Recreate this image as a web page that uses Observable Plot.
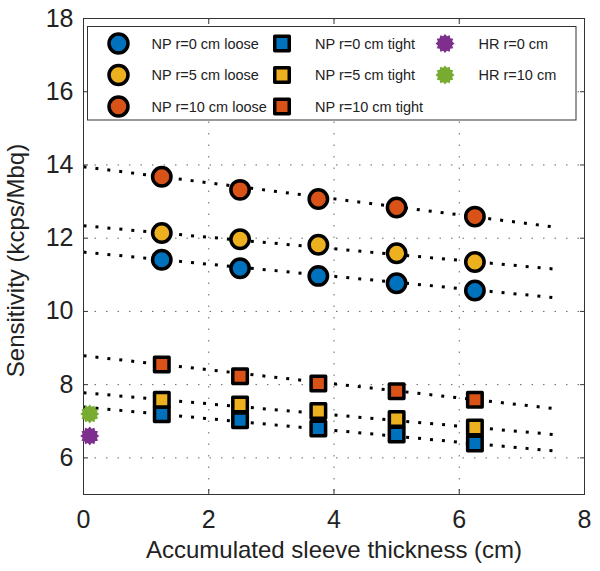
<!DOCTYPE html>
<html>
<head>
<meta charset="utf-8">
<script src="https://cdn.jsdelivr.net/npm/d3@7"></script>
<script src="https://cdn.jsdelivr.net/npm/@observablehq/plot@0.6"></script>
<style>
  html, body { margin: 0; padding: 0; background: #fff; }
  #chart { width: 600px; height: 571px; }
  svg { font-family: "Liberation Sans", Arial, Helvetica, sans-serif; }
</style>
</head>
<body>
<div id="chart"></div>
<script>
// ---- Data ----
const thickness = [1.25, 2.5, 3.75, 5, 6.25];
const seriesNames = [
  "NP r=0 cm loose", "NP r=5 cm loose", "NP r=10 cm loose",
  "NP r=0 cm tight", "NP r=5 cm tight", "NP r=10 cm tight",
  "HR r=0 cm", "HR r=10 cm"
];
const seriesColors = ["#0072BD", "#EDB120", "#D95319", "#0072BD", "#EDB120", "#D95319", "#7E2F8E", "#77AC30"];
const np0Loose  = [11.41, 11.18, 10.97, 10.77, 10.57];
const np5Loose  = [12.14, 11.97, 11.82, 11.59, 11.35];
const np10Loose = [13.68, 13.32, 13.07, 12.84, 12.59];
const np0Tight  = [7.19, 7.03, 6.80, 6.64, 6.39];
const np5Tight  = [7.59, 7.46, 7.28, 7.06, 6.83];
const np10Tight = [8.55, 8.23, 8.03, 7.82, 7.59];
const hrThickness = [0.1, 0.1];
const hrValues = [6.60, 7.20];
// dotted fit lines: value at start and end thickness
const fitRange = [0, 7.5];
const fitStart = [11.62, 12.34, 13.95, 7.39, 7.78, 8.79];
const fitEnd   = [10.38, 11.16, 12.31, 6.19, 6.64, 7.35];
const xTicks = [0, 2, 4, 6, 8];
const yTicks = [6, 8, 10, 12, 14, 16, 18];
const xGrid = [2, 4, 6];
const yGrid = [6, 8, 10, 12, 14, 16];
const xLabel = "Accumulated sleeve thickness (cm)";
const yLabel = "Sensitivity (kcps/Mbq)";

// ---- Build tables ----
const looseArrays = [np0Loose, np5Loose, np10Loose];
const tightArrays = [np0Tight, np5Tight, np10Tight];
const loose = looseArrays.flatMap((arr, i) => arr.map((v, j) => ({x: thickness[j], y: v, series: seriesNames[i]})));
const tight = tightArrays.flatMap((arr, i) => arr.map((v, j) => ({x: thickness[j], y: v, series: seriesNames[i + 3]})));
const hr = hrValues.map((v, i) => ({x: hrThickness[i], y: v, series: seriesNames[6 + i]}));
const fits = fitStart.map((v, i) => ({x1: fitRange[0], y1: v, x2: fitRange[1], y2: fitEnd[i], series: seriesNames[i]}));

// serrated "burst" marker (thick MATLAB asterisk look)
const burst = {
  draw(context, size) {
    const R = Math.sqrt(size / Math.PI);
    const n = 12;
    for (let k = 0; k < 2 * n; k++) {
      const a = (k * Math.PI) / n - Math.PI / 2;
      const rr = k % 2 === 0 ? R : R * 0.78;
      const px = rr * Math.cos(a), py = rr * Math.sin(a);
      if (k === 0) context.moveTo(px, py); else context.lineTo(px, py);
    }
    context.closePath();
  }
};

const frameColor = "#333";
const gridStyle = {stroke: "#666", strokeOpacity: 1, strokeWidth: 1, strokeDasharray: "1.5,10"};

const chart = Plot.plot({
  width: 600,
  height: 571,
  marginLeft: 83,
  marginRight: 16,
  marginTop: 18,
  marginBottom: 77,
  style: {fontFamily: "Liberation Sans, Arial, Helvetica, sans-serif", background: "#fff", color: "#222"},
  x: {domain: [0, 8]},
  y: {domain: [5, 18]},
  color: {domain: seriesNames, range: seriesColors},
  marks: [
    Plot.gridX(xGrid, gridStyle),
    Plot.gridY(yGrid, gridStyle),
    Plot.link(fits, {x1: "x1", y1: "y1", x2: "x2", y2: "y2", stroke: "black", strokeWidth: 3, strokeDasharray: "3,9"}),
    Plot.frame({stroke: frameColor, strokeWidth: 1}),
    Plot.axisX(xTicks, {anchor: "bottom", tickSize: -5, text: null, label: null, stroke: frameColor}),
    Plot.axisX(xTicks, {anchor: "top", tickSize: -5, text: null, label: null, stroke: frameColor}),
    Plot.axisY(yTicks, {anchor: "left", tickSize: -5, text: null, label: null, stroke: frameColor}),
    Plot.axisY(yTicks, {anchor: "right", tickSize: -5, text: null, label: null, stroke: frameColor}),
    Plot.axisX(xTicks, {anchor: "bottom", tickSize: 0, tickPadding: 16, fontSize: 25, label: null, fill: "#222"}),
    Plot.axisY(yTicks, {anchor: "left", tickSize: 0, tickPadding: 10, fontSize: 25, label: null, fill: "#222"}),
    Plot.text([xLabel], {frameAnchor: "bottom", textAnchor: "middle", lineAnchor: "middle", dy: 56, fontSize: 24, fill: "#222"}),
    Plot.text([yLabel], {frameAnchor: "left", textAnchor: "middle", lineAnchor: "middle", rotate: -90, dx: -67, dy: 4, fontSize: 24, fill: "#222"}),
    Plot.dot(loose, {x: "x", y: "y", r: 9.2, fill: "series", stroke: "black", strokeWidth: 3.5}),
    Plot.dot(tight, {x: "x", y: "y", symbol: "square", r: 8.2, fill: "series", stroke: "black", strokeWidth: 3.5, strokeLinejoin: "round"}),
    Plot.dot(hr, {x: "x", y: "y", symbol: burst, r: 9.5, fill: "series", stroke: "none"})
  ]
});
document.getElementById("chart").appendChild(chart);

// ---- Legend box (inside plot area, top) ----
const legendKinds = ["circle", "circle", "circle", "square", "square", "square", "star", "star"];
const legendCol = [0, 0, 0, 1, 1, 1, 2, 2];
const legendRow = [0, 1, 2, 0, 1, 2, 0, 1];
const colMarkerX = [118.5, 282, 445];
const colTextX = [151.5, 315, 478.5];
const rowY = [43.5, 75, 106.5];

const svg = d3.select(chart);
const lg = svg.append("g").attr("class", "legend").attr("text-anchor", "start");
lg.append("rect").attr("x", 87.5).attr("y", 26.5).attr("width", 488.5).attr("height", 93.5)
  .attr("fill", "#fff").attr("stroke", frameColor).attr("stroke-width", 1);
seriesNames.forEach((name, i) => {
  const cx = colMarkerX[legendCol[i]], cy = rowY[legendRow[i]];
  const color = seriesColors[i];
  const kind = legendKinds[i];
  if (kind === "circle") {
    lg.append("circle").attr("cx", cx).attr("cy", cy).attr("r", 9.5)
      .attr("fill", color).attr("stroke", "black").attr("stroke-width", 3.5);
  } else if (kind === "square") {
    lg.append("path").attr("transform", `translate(${cx},${cy})`)
      .attr("d", d3.symbol(d3.symbolSquare, 8.2 * 8.2 * Math.PI)())
      .attr("fill", color).attr("stroke", "black").attr("stroke-width", 3.5).attr("stroke-linejoin", "round");
  } else {
    lg.append("path").attr("transform", `translate(${cx},${cy})`)
      .attr("d", d3.symbol(burst, 9.5 * 9.5 * Math.PI)())
      .attr("fill", color);
  }
  lg.append("text").attr("x", colTextX[legendCol[i]]).attr("y", cy).attr("dy", "0.36em")
    .attr("text-anchor", "start").attr("font-size", 14.5).attr("fill", "#222").text(name);
});
</script>
</body>
</html>
